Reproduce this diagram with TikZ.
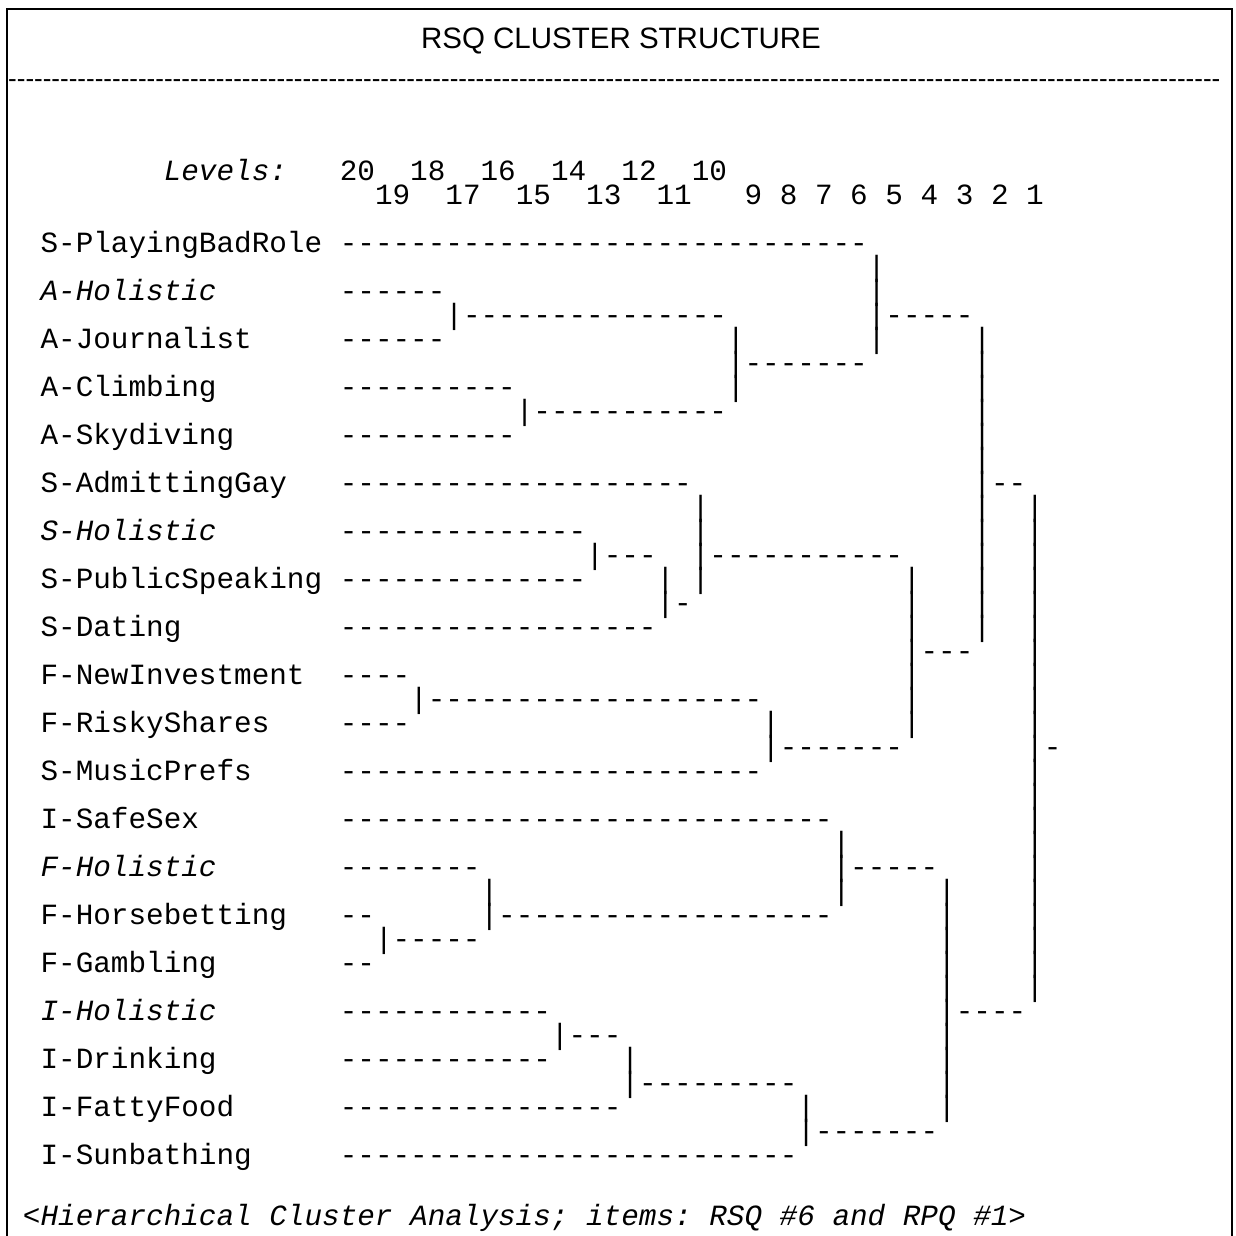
\documentclass[tikz,border=0pt]{standalone}
\usepackage{fontspec}
\setmonofont{Liberation Mono}
\newfontfamily\sansf{Liberation Sans}
\ExplSyntaxOn
\cs_new:Npn \mydsh #1 { \prg_replicate:nn {#1} { -\kern0pt } }
\ExplSyntaxOff
\newcommand\dsh[1]{\mydsh{#1}}
\newcommand\monof{\ttfamily\fontsize{29.33}{30}\selectfont\frenchspacing}
\newcommand\monoi{\monof\itshape}
\newcommand\seg[3]{\node[seg] (n-#1-#2) at ({23+17.6*#2},{180+24*#1}) {#3};}
\newcommand\segi[3]{\node[seg,font=\monoi] (n-#1-#2) at ({23+17.6*#2},{180+24*#1}) {#3};}
\newcommand\run[3]{\seg{#1}{#2}{\dsh{#3}}}
\newcommand\pipe[2]{\seg{#1}{#2}{|}}
\newcommand\br[3]{\seg{#1}{#2}{|\dsh{#3}}}
\begin{document}
\begin{tikzpicture}[x=1pt,y=-1pt,
  seg/.style={anchor=base west,inner sep=0pt,outer sep=0pt,font=\monof},
  frame/.style={line width=2.5pt,line join=miter}]
\useasboundingbox (0,0) rectangle (1236,1235);
\draw[frame] (7,1236) -- (7,9) -- (1232,9) -- (1232,1236);
\node[font=\sansf\fontsize{29.5}{30}\selectfont,anchor=base,inner sep=0pt] (title) at (621,48) {RSQ CLUSTER STRUCTURE};
\node[anchor=base west,inner sep=0pt,font=\sansf\fontsize{26}{26}\selectfont] (sep) at (8,87) {\dsh{140}};
% levels
\segi{0}{8}{Levels:}
\foreach \n/\c in {20/18,18/22,16/26,14/30,12/34,10/38} {\seg{0}{\c}{\n}}
\foreach \n/\c in {19/20,17/24,15/28,13/32,11/36,9/41,8/43,7/45,6/47,5/49,4/51,3/53,2/55,1/57} {\seg{1}{\c}{\n}}
% labels
\foreach \k/\t in {3/S-PlayingBadRole,7/A-Journalist,9/A-Climbing,11/A-Skydiving,13/S-AdmittingGay,17/S-PublicSpeaking,19/S-Dating,21/F-NewInvestment,23/F-RiskyShares,25/S-MusicPrefs,27/I-SafeSex,31/F-Horsebetting,33/F-Gambling,37/I-Drinking,39/I-FattyFood,41/I-Sunbathing} {\seg{\k}{1}{\t}}
\foreach \k/\t in {5/A-Holistic,15/S-Holistic,29/F-Holistic,35/I-Holistic} {\segi{\k}{1}{\t}}
% leaf runs
\foreach \k/\n in {3/30,5/6,7/6,9/10,11/10,13/20,15/14,17/14,19/18,21/4,23/4,25/24,27/28,29/8,31/2,33/2,35/12,37/12,39/16,41/26} {\run{\k}{18}{\n}}
% branches
\foreach \k/\c/\n in {6/24/15,10/28/11,8/40/7,6/48/5,16/32/3,18/36/1,16/38/11,22/22/19,24/42/7,20/50/3,13/54/2,24/57/1,29/46/5,31/26/19,32/20/5,36/30/3,38/34/9,40/44/7,35/52/4} {\br{\k}{\c}{\n}}
% pipes
\foreach \k in {4,5,7} {\pipe{\k}{48}}
\foreach \k in {7,9} {\pipe{\k}{40}}
\foreach \k in {7,8,9,10,11,12,14,15,16,17,18,19} {\pipe{\k}{54}}
\foreach \k in {14,15,17} {\pipe{\k}{38}}
\pipe{17}{36}
\foreach \k in {17,18,19,21,22,23} {\pipe{\k}{50}}
\pipe{23}{42}
\foreach \k in {14,15,16,17,18,19,20,21,22,23,25,26,27,28,29,30,31,32,33,34} {\pipe{\k}{57}}
\foreach \k in {28,30} {\pipe{\k}{46}}
\pipe{30}{26}
\foreach \k in {30,31,32,33,34,36,37,38,39} {\pipe{\k}{52}}
\pipe{37}{34}
\pipe{39}{44}
% footer
\node[seg,font=\monoi] (foot) at (23,1225) {<Hierarchical Cluster Analysis; items: RSQ \#6 and RPQ \#1>};
\end{tikzpicture}
\end{document}
